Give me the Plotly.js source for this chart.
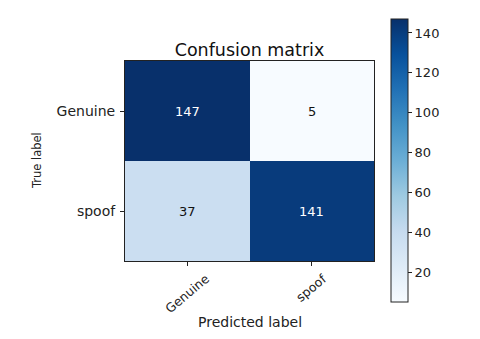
<!DOCTYPE html>
<html>
<head>
<meta charset="utf-8">
<script src="https://cdn.plot.ly/plotly-3.0.1.min.js"></script>
<style>html,body{margin:0;padding:0;background:#fff;}#chart{width:480px;height:339px;}</style>
</head>
<body>
<div id="chart"></div>
<script>
const predictedLabels = ["Genuine", "spoof"];
const trueLabels = ["Genuine", "spoof"];
const counts = [
  [147, 5],
  [37, 141]
];
const colorbarTicks = [20, 40, 60, 80, 100, 120, 140];
const bluesStops = ["#f7fbff", "#deebf7", "#c6dbef", "#9ecae1", "#6baed6", "#4292c6", "#2171b5", "#08519c", "#08306b"];

const flat = counts.flat();
const zmin = Math.min(...flat), zmax = Math.max(...flat);
const thresh = zmax / 2;
const colorscale = bluesStops.map((c, i) => [i / (bluesStops.length - 1), c]);
const FONT = 'DejaVu Sans';
const TXT = '#222';

const annotations = [];
counts.forEach((row, i) => {
  row.forEach((v, j) => {
    annotations.push({
      x: predictedLabels[j], y: trueLabels[i], xref: 'x', yref: 'y',
      text: String(v), showarrow: false,
      font: {family: FONT, size: 13, color: v > thresh ? '#ffffff' : '#111111'}
    });
  });
});
// rotated x tick labels, centred on the tick like matplotlib rotation=45
predictedLabels.forEach(lab => {
  annotations.push({
    x: lab, xref: 'x', y: -0.035, yref: 'paper',
    xanchor: 'center', yanchor: 'top', textangle: -40,
    text: lab, showarrow: false,
    font: {family: FONT, size: 12.5, color: TXT}
  });
});
annotations.push({
  x: 0.5, xref: 'paper', y: -0.307, yref: 'paper', xanchor: 'center', yanchor: 'middle',
  text: 'Predicted label', showarrow: false, font: {family: FONT, size: 14, color: TXT}
});
annotations.push({
  x: -0.353, xref: 'paper', y: 0.5, yref: 'paper', xanchor: 'center', yanchor: 'middle',
  textangle: -90, text: 'True label', showarrow: false, font: {family: FONT, size: 11.5, color: TXT}
});

const trace = {
  type: 'heatmap',
  x: predictedLabels,
  y: trueLabels,
  z: counts,
  zmin: zmin, zmax: zmax,
  colorscale: colorscale,
  hoverinfo: 'skip',
  colorbar: {
    x: 1.068, xanchor: 'left', xref: 'paper',
    y: 0.5025, yanchor: 'middle',
    thickness: 17, thicknessmode: 'pixels',
    len: 283, lenmode: 'pixels',
    outlinewidth: 1, outlinecolor: '#222',
    ticks: 'outside', ticklen: 4, tickcolor: '#222',
    tickvals: colorbarTicks,
    tickfont: {family: FONT, size: 13, color: TXT},
    ticklabelstandoff: 3,
    xpad: 0, ypad: 0
  }
};

const layout = {
  width: 480, height: 339,
  margin: {l: 125, r: 106, t: 61, b: 78},
  paper_bgcolor: '#fff', plot_bgcolor: '#fff',
  font: {family: FONT, color: TXT},
  title: {text: 'Confusion matrix', font: {family: FONT, size: 17.5, color: '#111'}, x: 0.5, xref: 'paper', xanchor: 'center', y: 1, yref: 'paper', yanchor: 'bottom', pad: {b: 5}},
  xaxis: {
    type: 'category', showticklabels: false,
    ticks: 'outside', ticklen: 4, tickcolor: '#222',
    showline: true, mirror: true, linecolor: '#222', linewidth: 1,
    showgrid: false, zeroline: false
  },
  yaxis: {
    type: 'category', autorange: 'reversed',
    ticks: 'outside', ticklen: 4, tickcolor: '#222',
    showline: true, mirror: true, linecolor: '#222', linewidth: 1,
    showgrid: false, zeroline: false,
    ticklabelstandoff: 2,
    tickfont: {family: FONT, size: 14, color: TXT}
  },
  annotations: annotations
};

Plotly.newPlot('chart', [trace], layout, {staticPlot: true, displayModeBar: false});
</script>
</body>
</html>
